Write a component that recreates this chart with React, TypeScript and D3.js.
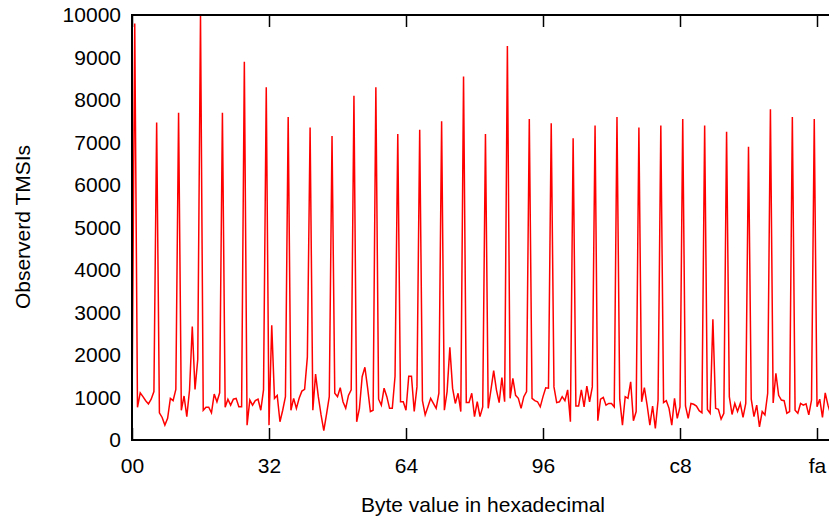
import React, { useEffect, useRef } from 'react'
import * as d3 from 'd3'

// observed TMSI counts per byte value 0x00..0xff
const counts: number[] = [
  600, 9800, 770, 1110, 1020, 925, 850, 960, 1140, 7470, 640, 530, 350, 510, 980, 925,
  1190, 7700, 700, 1035, 550, 1175, 2670, 1190, 1900, 10000, 700, 770, 770, 640, 1080, 900,
  1110, 7700, 770, 960, 820, 960, 980, 780, 780, 8900, 350, 940, 820, 925, 960, 700,
  1180, 8300, 350, 2700, 980, 1050, 430, 700, 1020, 7600, 700, 980, 745, 980, 1150, 1190,
  1950, 7350, 700, 1550, 1020, 590, 220, 610, 1020, 7150, 1100, 1020, 1230, 900, 745, 1050,
  1180, 8100, 430, 745, 1490, 1710, 1220, 670, 700, 8300, 960, 820, 1220, 1020, 745, 745,
  1500, 7200, 900, 900, 700, 1500, 1500, 670, 1250, 7300, 925, 590, 780, 980, 860, 745,
  1100, 7500, 700, 1140, 2180, 1220, 860, 1100, 670, 8550, 880, 880, 1100, 550, 900, 550,
  780, 7200, 745, 1180, 1630, 1180, 880, 1470, 900, 9270, 980, 1450, 1050, 980, 745, 1020,
  1140, 7550, 980, 925, 900, 780, 1020, 1230, 1220, 7450, 1250, 880, 900, 1020, 925, 1180,
  430, 7100, 800, 800, 1180, 780, 1270, 900, 1250, 7400, 455, 960, 1000, 820, 860, 860,
  780, 7600, 960, 350, 1020, 980, 1370, 455, 670, 7350, 900, 1230, 820, 350, 800, 270,
  940, 7400, 880, 925, 745, 350, 980, 510, 780, 7550, 800, 510, 860, 840, 800, 690,
  640, 7400, 720, 630, 2840, 745, 720, 490, 630, 7250, 1020, 600, 860, 670, 860, 530,
  860, 6900, 960, 550, 820, 310, 670, 590, 1100, 7780, 870, 1570, 1050, 940, 925, 630,
  670, 7600, 700, 630, 860, 820, 850, 590, 940, 7550, 780, 960, 530, 1110, 820, 600,
]
const xTicks = [0, 50, 100, 150, 200, 250]
const yTicks = [0, 1000, 2000, 3000, 4000, 5000, 6000, 7000, 8000, 9000, 10000]

const W = 829
const H = 518
const FONT = '"Liberation Sans", Arial, sans-serif'

export default function App() {
  const svgRef = useRef<SVGSVGElement>(null)

  useEffect(() => {
    const left = 132, top = 15, bottom = 440
    const x = d3.scaleLinear().domain([0, 255]).range([left, left + 255 * 2.74])
    const y = d3.scaleLinear().domain([0, 10000]).range([bottom, top])

    const svg = d3.select(svgRef.current)
    svg.selectAll('*').remove()

    // bottom axis, ticks pointing inward
    const xAxis = svg.append('g')
      .attr('transform', `translate(0,${bottom})`)
      .call(d3.axisBottom(x).tickValues(xTicks).tickSizeInner(-12).tickSizeOuter(0).tickPadding(18)
        .tickFormat(d => d3.format('02x')(d as number)))
    xAxis.select('.domain').remove()

    // mirrored ticks on top
    const xTop = svg.append('g')
      .attr('transform', `translate(0,${top})`)
      .call(d3.axisTop(x).tickValues(xTicks).tickSizeInner(-12).tickSizeOuter(0).tickFormat(() => ''))
    xTop.select('.domain').remove()

    const yAxis = svg.append('g')
      .attr('transform', `translate(${left},0)`)
      .call(d3.axisLeft(y).tickValues(yTicks).tickSize(0).tickPadding(11).tickFormat(d3.format('d')))
    yAxis.select('.domain').remove()

    svg.selectAll('.tick text')
      .attr('font-family', FONT)
      .attr('font-size', 21)
      .attr('fill', '#000')
    svg.selectAll('.tick line')
      .attr('stroke', '#000')
      .attr('stroke-width', 1.5)

    const myLine = d3.line<number>()
      .x((_, i) => x(i))
      .y(d => y(d))

    svg.append('path')
      .datum(counts)
      .attr('d', myLine)
      .attr('fill', 'none')
      .attr('stroke', '#ff0000')
      .attr('stroke-width', 1.5)
      .attr('stroke-linejoin', 'miter')

    // border: left, bottom, top (right side falls outside the picture)
    svg.append('path')
      .attr('d', `M${W + 10},${top}H${left}V${bottom}H${W + 10}`)
      .attr('fill', 'none')
      .attr('stroke', '#000')
      .attr('stroke-width', 2)

    svg.append('text')
      .attr('x', 483)
      .attr('y', 512)
      .attr('text-anchor', 'middle')
      .attr('font-family', FONT)
      .attr('font-size', 21)
      .text('Byte value in hexadecimal')

    svg.append('text')
      .attr('transform', 'translate(30,227) rotate(-90)')
      .attr('text-anchor', 'middle')
      .attr('font-family', FONT)
      .attr('font-size', 21)
      .text('Observerd TMSIs')
  }, [])

  return (
    <svg ref={svgRef} width={W} height={H}
      style={{ position: 'fixed', left: 0, top: 0, background: '#fff' }} />
  )
}
